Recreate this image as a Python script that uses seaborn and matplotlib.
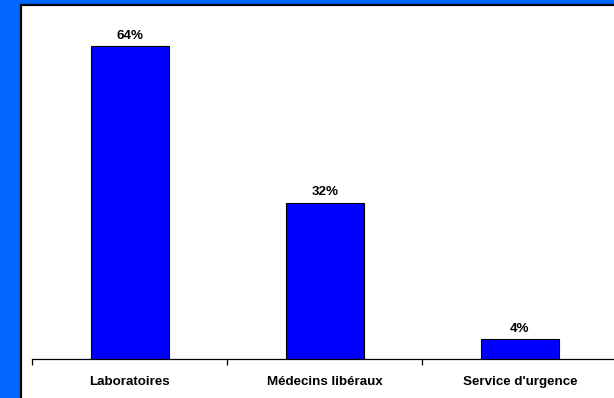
import seaborn as sns
import matplotlib.pyplot as plt
from matplotlib.patches import Rectangle
import pandas as pd

# Données
categories = ["Laboratoires", "Médecins libéraux", "Service d'urgence"]
valeurs = [64, 32, 4]
etiquettes = ["64%", "32%", "4%"]

df = pd.DataFrame({"categorie": categories, "valeur": valeurs})

sns.set_style("white")
plt.rcParams["font.family"] = ["Liberation Sans", "DejaVu Sans"]
plt.rcParams["text.color"] = "black"
plt.rcParams["xtick.color"] = "black"

W, H = 614, 398
fig = plt.figure(figsize=(W / 100, H / 100), dpi=100)
fig.patch.set_facecolor("#0066FF")

# panneau blanc avec bordure noire
fig.patches.append(Rectangle((21 / W, -0.05), 1.1, 1 - 5 / H + 0.05,
                             transform=fig.transFigure, facecolor="white",
                             edgecolor="black", linewidth=1.6, zorder=-5))

# axe : bas à y=359, 4.89 px par %
ax = fig.add_axes([32.3 / W, (H - 359) / H, 585 / W, 70 * 4.89 / H])
ax.patch.set_alpha(0)

sns.barplot(data=df, x="categorie", y="valeur", color="#0000FF", saturation=1,
            width=0.4, edgecolor="black", linewidth=0.8, ax=ax)

ax.set_xlim(-0.5, 2.5)
ax.set_ylim(0, 70)
ax.set_xlabel("")
ax.set_ylabel("")
ax.set_yticks([])
for s in ["top", "right", "left"]:
    ax.spines[s].set_visible(False)
ax.spines["bottom"].set_linewidth(0.9)
ax.spines["bottom"].set_color("black")

ax.set_xticks([0, 1, 2])
ax.set_xticklabels(categories, fontsize=9.6, fontweight="bold", color="black")
ax.tick_params(axis="x", which="major", length=0, pad=12)
ax.set_xticks([-0.5, 0.5, 1.5, 2.5], minor=True)
ax.tick_params(axis="x", which="minor", length=4, width=0.9, color="black",
               direction="out", bottom=True)

for i, (v, lab) in enumerate(zip(valeurs, etiquettes)):
    ax.annotate(lab, (i, v), xytext=(0, 3), textcoords="offset points",
                ha="center", va="bottom", fontsize=9.6, fontweight="bold",
                color="black")

fig.savefig("out.png", dpi=100, facecolor=fig.get_facecolor())
